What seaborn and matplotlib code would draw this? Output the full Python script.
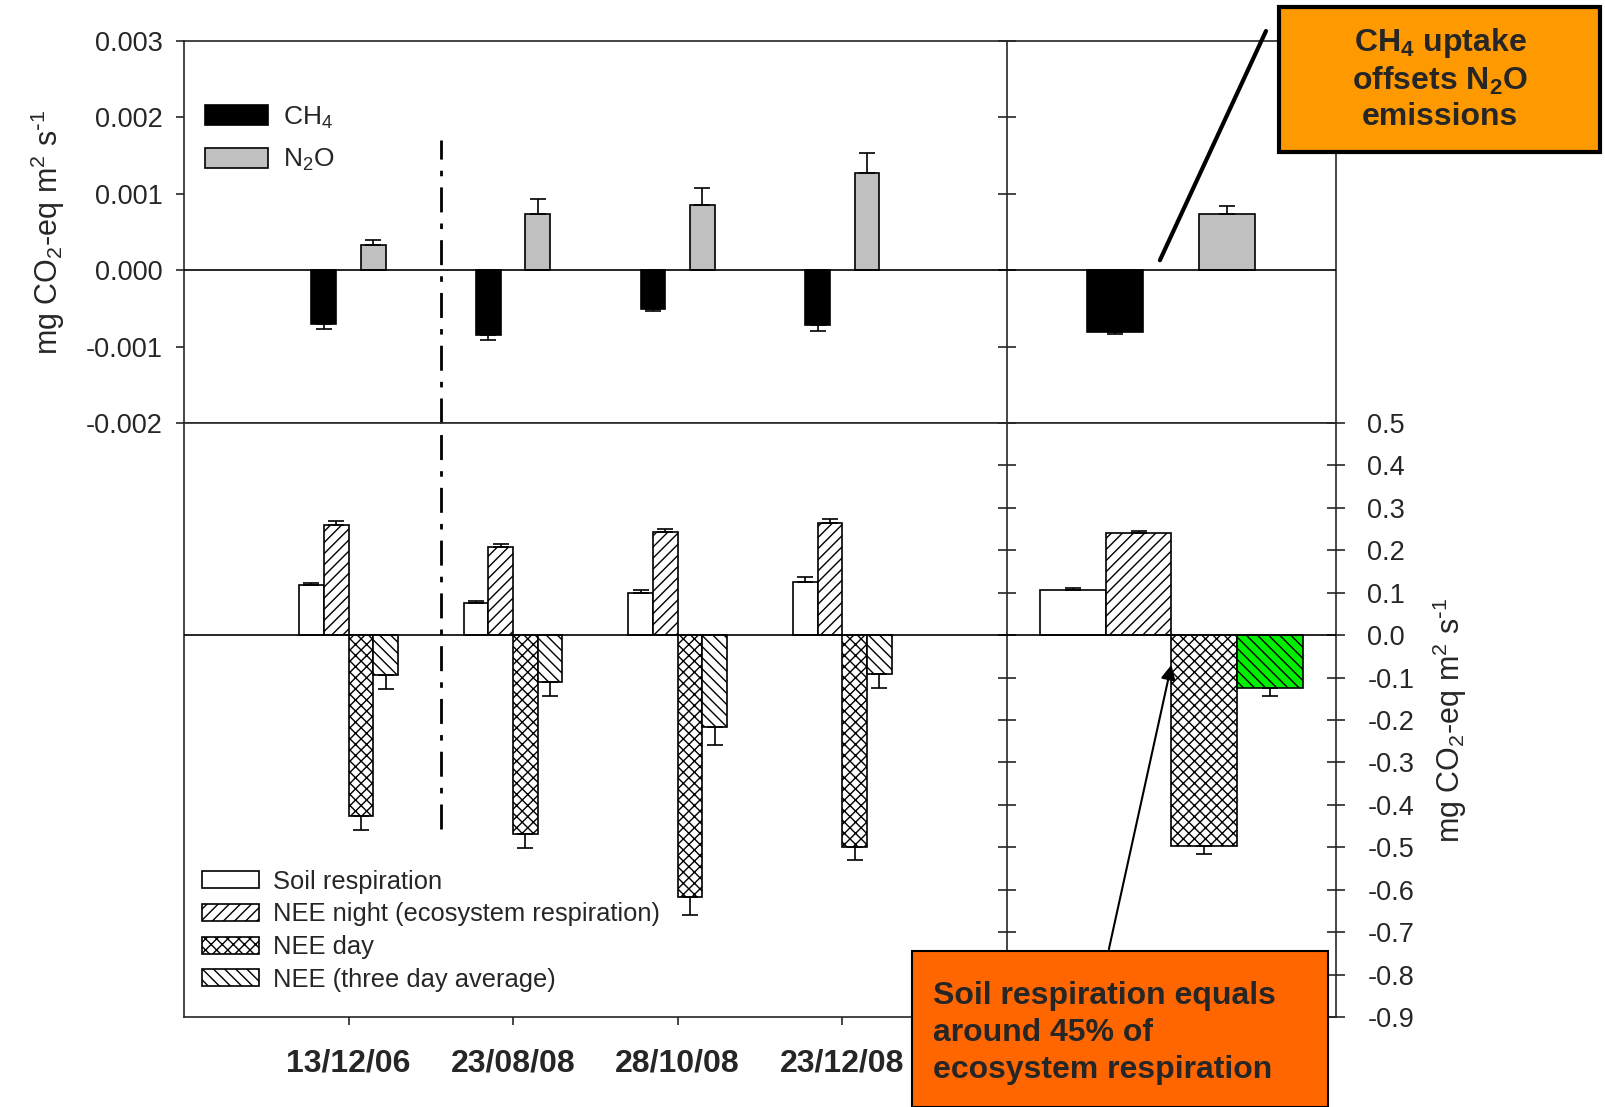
# ==========================================
# plot.py
# CH4 / N2O and CO2 fluxes per campaign
# ==========================================

import numpy as np
import pandas as pd
import matplotlib
matplotlib.use("Agg")
import matplotlib.pyplot as plt
from matplotlib.patches import Patch, Rectangle
from matplotlib.container import BarContainer
import seaborn as sns

# ---- values ----
dates = ["13/12/06", "23/08/08", "28/10/08", "23/12/08"]

ch4 = [-0.00071, -0.00085, -0.00051, -0.00072]
ch4_err = [0.00006, 0.00007, 0.00002, 0.00008]
n2o = [0.00033, 0.00073, 0.00085, 0.00127]
n2o_err = [0.00006, 0.00020, 0.00022, 0.00026]
ch4_mean = [-0.00081]
ch4_mean_err = [0.00003]
n2o_mean = [0.00074]
n2o_mean_err = [0.00010]

soil = [0.117, 0.075, 0.100, 0.125]
soil_err = [0.005, 0.005, 0.006, 0.012]
nee_night = [0.260, 0.208, 0.243, 0.264]
nee_night_err = [0.008, 0.007, 0.008, 0.010]
nee_day = [-0.427, -0.468, -0.616, -0.500]
nee_day_err = [0.032, 0.034, 0.044, 0.029]
nee_3day = [-0.094, -0.111, -0.216, -0.091]
nee_3day_err = [0.033, 0.033, 0.044, 0.034]
mean_soil = [0.106]
mean_soil_err = [0.005]
mean_night = [0.240]
mean_night_err = [0.005]
mean_day = [-0.497]
mean_day_err = [0.018]
mean_3day = [-0.125]
mean_3day_err = [0.019]

gas_names = ["CH$_4$", "N$_2$O"]
co2_names = ["Soil respiration", "NEE night (ecosystem respiration)",
             "NEE day", "NEE (three day average)"]
unit_label = r"mg CO$_2$-eq m$^2$ s$^{\text{-}1}$"

# ---- style ----
sns.set_style("ticks")
plt.rcParams["font.family"] = ["Liberation Sans", "DejaVu Sans"]
plt.rcParams["mathtext.default"] = "regular"
plt.rcParams["hatch.linewidth"] = 1.0
plt.rcParams["axes.linewidth"] = 1.2

fig = plt.figure(figsize=(16.05, 11.07), dpi=100)
ax_top = fig.add_axes([0.1146, 0.6179, 0.7178, 0.3451])
ax_bot = fig.add_axes([0.1146, 0.0813, 0.7178, 0.5366])

site_pos = np.arange(len(dates))
summary_pos = len(dates) + 1


def long_frame(pos, names, values, errors):
    rows = []
    for name, vals, errs in zip(names, values, errors):
        for p, v, e in zip(pos, vals, errs):
            rows.append({"pos": p, "flux": v, "err": e, "series": name})
    return pd.DataFrame(rows)


def bar_containers(ax, start):
    return [c for c in ax.containers[start:] if isinstance(c, BarContainer)]


def add_errors(ax, containers, frame, names):
    # one-sided error bars, pointing away from zero
    for cont, name in zip(containers, names):
        sub = frame[frame["series"] == name].sort_values("pos")
        bars = sorted(cont.patches, key=lambda p: p.get_x())
        xs = [b.get_x() + b.get_width() / 2 for b in bars]
        ys = [b.get_height() for b in bars]
        lo = [e if y < 0 else 0 for y, e in zip(ys, sub["err"])]
        hi = [e if y >= 0 else 0 for y, e in zip(ys, sub["err"])]
        ax.errorbar(xs, ys, yerr=[lo, hi], fmt="none", ecolor="black",
                    elinewidth=1.2, capsize=6, capthick=1.2, zorder=1)


# ---- top panel: CH4 and N2O ----
gas_colors = {gas_names[0]: "black", gas_names[1]: "#c0c0c0"}
gas_sites = long_frame(site_pos, gas_names, [ch4, n2o], [ch4_err, n2o_err])
gas_mean = long_frame([summary_pos], gas_names, [ch4_mean, n2o_mean],
                      [ch4_mean_err, n2o_mean_err])

for frame, w in [(gas_sites, 0.6), (gas_mean, 1.36)]:
    n0 = len(ax_top.containers)
    sns.barplot(data=frame, x="pos", y="flux", hue="series",
                hue_order=gas_names, palette=gas_colors, native_scale=True,
                width=w, gap=0.5, dodge=True, saturation=1, orient="x",
                edgecolor="black", linewidth=1.2, errorbar=None,
                legend=False, ax=ax_top)
    add_errors(ax_top, bar_containers(ax_top, n0), frame, gas_names)

ax_top.axhline(0, color="black", lw=1.2, zorder=3)
ax_top.set_xlim(-1, 6)
ax_top.set_ylim(-0.002, 0.003)
top_ticks = np.arange(-2, 4) / 1000
ax_top.set_yticks(top_ticks, [f"{t:.3f}" for t in top_ticks])
ax_top.set_xticks([])
ax_top.set_xlabel("")
ax_top.tick_params(axis="y", direction="out", length=6, width=1.2,
                   labelsize=19.5, pad=9)
ax_top.set_ylabel(unit_label, fontsize=22, labelpad=14)
for s in ax_top.spines.values():
    s.set_visible(True)
    s.set_linewidth(1.2)

sec_top = ax_top.secondary_yaxis(5 / 7)
sec_top.set_yticks(top_ticks)
sec_top.tick_params(direction="inout", length=13, width=1.2,
                    labelleft=False, labelright=False)

ax_top.legend(handles=[Patch(facecolor=gas_colors[n], edgecolor="black",
                             lw=1.2, label=n) for n in gas_names],
              loc="upper left", bbox_to_anchor=(0.018, 0.834), frameon=False,
              fontsize=19, handlelength=2.4, handleheight=0.8,
              handletextpad=0.55, labelspacing=0.62, borderpad=0,
              borderaxespad=0)

# ---- bottom panel: CO2 fluxes ----
co2_colors = {co2_names[0]: "white", co2_names[1]: "white",
              co2_names[2]: "white", co2_names[3]: "white"}
co2_hatch = ["", "///", "xxx", "\\\\\\"]
co2_sites = long_frame(site_pos, co2_names,
                       [soil, nee_night, nee_day, nee_3day],
                       [soil_err, nee_night_err, nee_day_err, nee_3day_err])
co2_mean = long_frame([summary_pos], co2_names,
                      [mean_soil, mean_night, mean_day, mean_3day],
                      [mean_soil_err, mean_night_err, mean_day_err,
                       mean_3day_err])

mean_bars = None
for frame, w in [(co2_sites, 0.6), (co2_mean, 1.6)]:
    n0 = len(ax_bot.containers)
    sns.barplot(data=frame, x="pos", y="flux", hue="series",
                hue_order=co2_names, palette=co2_colors, native_scale=True,
                width=w, dodge=True, saturation=1, orient="x",
                edgecolor="black", linewidth=1.2, errorbar=None,
                legend=False, ax=ax_bot)
    new = bar_containers(ax_bot, n0)
    for cont, h in zip(new, co2_hatch):
        for p in cont.patches:
            p.set_hatch(h)
    add_errors(ax_bot, new, frame, co2_names)
    mean_bars = new

# the summary "three day average" bar is highlighted in green
mean_bars[-1].patches[0].set_facecolor("#00ee00")

ax_bot.axhline(0, color="black", lw=1.2, zorder=3)
ax_bot.set_xlim(-1, 6)
ax_bot.set_ylim(-0.9, 0.5)
bot_ticks = np.round(np.arange(-9, 6) / 10, 1)
ax_bot.yaxis.tick_right()
ax_bot.set_yticks(bot_ticks, [f"{t:.1f}" for t in bot_ticks])
ax_bot.tick_params(axis="y", direction="inout", length=13, width=1.2,
                   left=False, right=True, labelleft=False, labelright=True,
                   labelsize=19.5, pad=16)
ax_bot.set_xticks(site_pos, dates)
ax_bot.tick_params(axis="x", direction="out", length=6, width=1.2, pad=17)
for lab in ax_bot.get_xticklabels():
    lab.set_fontsize(23)
    lab.set_fontweight("bold")
ax_bot.set_xlabel("")
ax_bot.yaxis.set_label_position("right")
ax_bot.set_ylabel(unit_label, fontsize=22, labelpad=12)
for s in ax_bot.spines.values():
    s.set_visible(True)
    s.set_linewidth(1.2)

sec_bot = ax_bot.secondary_yaxis(5 / 7)
sec_bot.set_yticks(bot_ticks)
sec_bot.tick_params(direction="inout", length=13, width=1.2,
                    labelleft=False, labelright=False)

ax_bot.legend(handles=[Patch(facecolor="white", edgecolor="black", lw=1.2,
                             hatch=h, label=n)
                       for n, h in zip(co2_names, co2_hatch)],
              loc="upper left", bbox_to_anchor=(0.016, 0.248), frameon=False,
              fontsize=18.4, handlelength=2.2, handleheight=0.65,
              handletextpad=0.55, labelspacing=0.34, borderpad=0,
              borderaxespad=0)

# dash-dot separator between the 2006 and 2008 campaigns
sep_style = dict(color="black", lw=2, linestyle=(0, (9, 4, 2, 4)))
ax_top.axvline(0.56, ymin=0, ymax=0.74, **sep_style)
ax_bot.axvline(0.56, ymin=0.316, ymax=1, **sep_style)

# ---- call-out boxes ----
fig.patches.append(Rectangle((1279 / 1605, 1 - 152 / 1107), 321 / 1605,
                             145 / 1107, transform=fig.transFigure,
                             facecolor="#ff9900", edgecolor="black", lw=3,
                             zorder=5))
fig.text(1440 / 1605, 1 - 79 / 1107,
         "CH$_4$ uptake\noffsets N$_2$O\nemissions",
         ha="center", va="center", fontsize=23, fontweight="bold",
         linespacing=1.22, zorder=6)
ax_top.annotate("", xy=(4.93, 0.00013), xycoords="data",
                xytext=(1266 / 1605, 1 - 31 / 1107),
                textcoords="figure fraction",
                arrowprops=dict(arrowstyle="-", lw=3, color="black",
                                shrinkA=0, shrinkB=0))

fig.patches.append(Rectangle((912 / 1605, 0), 416 / 1605, 156 / 1107,
                             transform=fig.transFigure, facecolor="#ff6600",
                             edgecolor="black", lw=1.5, zorder=5))
fig.text(933 / 1605, 1 - 1033 / 1107,
         "Soil respiration equals\naround 45% of\necosystem respiration",
         ha="left", va="center", fontsize=23, fontweight="bold",
         linespacing=1.3, zorder=6)
ax_bot.annotate("", xy=(5.0, -0.07), xycoords="data",
                xytext=(4.62, -0.74), textcoords="data",
                arrowprops=dict(arrowstyle="-|>", lw=1.5, color="black",
                                mutation_scale=22, shrinkA=0, shrinkB=0))

fig.savefig("out.png", dpi=100)
